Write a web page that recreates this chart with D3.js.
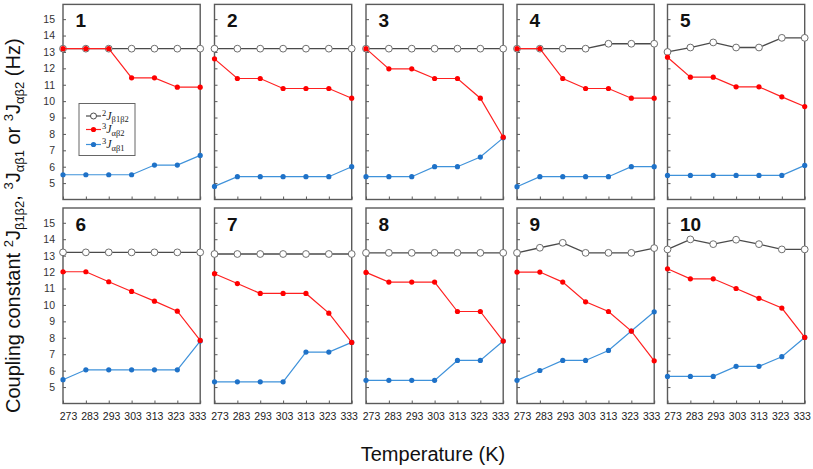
<!DOCTYPE html>
<html>
<head>
<meta charset="utf-8">
<script src="https://cdn.jsdelivr.net/npm/d3@7"></script>
<style>
  html, body { margin: 0; padding: 0; background: #fff; }
  svg { display: block; font-family: Arial, "Liberation Sans", sans-serif; }
</style>
</head>
<body>
<svg id="chart" width="813" height="469"></svg>
<script>
// ---- Data ----
const temperatures = [273, 283, 293, 303, 313, 323, 333];
const panelLabels = ["1", "2", "3", "4", "5", "6", "7", "8", "9", "10"];
const yTickValues = [5, 6, 7, 8, 9, 10, 11, 12, 13, 14, 15];

// 2J(β1β2)
const jBeta1Beta2 = [
  [13.2, 13.2, 13.2, 13.2, 13.2, 13.2, 13.2],
  [13.2, 13.2, 13.2, 13.2, 13.2, 13.2, 13.2],
  [13.2, 13.2, 13.2, 13.2, 13.2, 13.2, 13.2],
  [13.2, 13.2, 13.2, 13.2, 13.5, 13.5, 13.5],
  [13.0, 13.27, 13.58, 13.27, 13.27, 13.86, 13.86],
  [13.2, 13.2, 13.2, 13.2, 13.2, 13.2, 13.2],
  [13.1, 13.1, 13.1, 13.1, 13.1, 13.1, 13.1],
  [13.17, 13.17, 13.17, 13.17, 13.17, 13.17, 13.17],
  [13.17, 13.48, 13.78, 13.17, 13.17, 13.17, 13.46],
  [13.38, 13.99, 13.7, 13.97, 13.7, 13.38, 13.38]
];
// 3J(αβ2)
const jAlphaBeta2 = [
  [13.2, 13.2, 13.2, 11.42, 11.42, 10.85, 10.85],
  [12.58, 11.38, 11.38, 10.77, 10.77, 10.77, 10.18],
  [13.2, 11.97, 11.97, 11.38, 11.38, 10.18, 7.8],
  [13.2, 13.2, 11.38, 10.77, 10.77, 10.18, 10.18],
  [12.68, 11.46, 11.46, 10.87, 10.87, 10.26, 9.67],
  [12.02, 12.02, 11.41, 10.82, 10.23, 9.62, 7.84],
  [11.9, 11.3, 10.7, 10.7, 10.7, 9.5, 7.72],
  [11.98, 11.39, 11.39, 11.39, 9.6, 9.6, 7.8],
  [12.0, 12.0, 11.39, 10.19, 9.6, 8.41, 6.6],
  [12.2, 11.59, 11.59, 11.0, 10.4, 9.81, 8.02]
];
// 3J(αβ1)
const jAlphaBeta1 = [
  [5.51, 5.51, 5.51, 5.51, 6.1, 6.1, 6.69],
  [4.8, 5.39, 5.39, 5.39, 5.39, 5.39, 6.0],
  [5.39, 5.39, 5.39, 6.0, 6.0, 6.59, 7.76],
  [4.78, 5.39, 5.39, 5.39, 5.39, 6.0, 6.0],
  [5.47, 5.47, 5.47, 5.47, 5.47, 5.47, 6.08],
  [5.45, 6.05, 6.05, 6.05, 6.05, 6.05, 7.8],
  [5.32, 5.32, 5.32, 5.32, 7.13, 7.13, 7.72],
  [5.41, 5.41, 5.41, 5.41, 6.62, 6.62, 7.8],
  [5.41, 6.01, 6.62, 6.62, 7.23, 8.41, 9.58],
  [5.65, 5.65, 5.65, 6.26, 6.26, 6.85, 8.02]
];

// ---- Layout ----
const colLefts = [63, 214.5, 366, 517, 667.5];
const panelWidth = 137.2;
const rowRanges = [[199.5, 4.4], [403.5, 208]];
const yDomain = [4, 15.9];

const colors = {
  gray: "#4a4a4a", grayMarker: "#6e6e6e",
  red: "#ff2020", redMarker: "#ff0000",
  blue: "#3f92da", blueMarker: "#1f72c8",
  frame: "#5a5a5a"
};

const svg = d3.select("#chart");

panelLabels.forEach((lab, i) => {
  const row = Math.floor(i / 5), col = i % 5;
  const left = colLefts[col], right = left + panelWidth;
  const x = d3.scaleLinear().domain([273, 333]).range([left, right]);
  const xLab = d3.scaleLinear().domain([273, 333]).range([left + 5, right - 3]);
  const y = d3.scaleLinear().domain(yDomain).range(rowRanges[row]);
  const g = svg.append("g");

  // inner ticks: left
  const yAx = g.append("g").attr("transform", `translate(${left},0)`)
    .call(d3.axisRight(y).tickValues(yTickValues).tickSize(3).tickFormat(""));
  yAx.select(".domain").remove();
  yAx.selectAll("line").attr("stroke", colors.frame).attr("stroke-width", 1);

  // inner ticks: bottom
  const xAx = g.append("g").attr("transform", `translate(0,${rowRanges[row][0]})`)
    .call(d3.axisTop(x).tickValues(temperatures).tickSize(3).tickFormat(""));
  xAx.select(".domain").remove();
  xAx.selectAll("line").attr("stroke", colors.frame).attr("stroke-width", 1);

  // frame
  g.append("rect")
    .attr("x", left).attr("y", rowRanges[row][1])
    .attr("width", panelWidth).attr("height", rowRanges[row][0] - rowRanges[row][1])
    .attr("fill", "none").attr("stroke", colors.frame).attr("stroke-width", 1.4);

  // y tick labels (first column)
  if (col === 0) {
    const yl = g.append("g").attr("transform", `translate(${left - 8},0)`)
      .call(d3.axisLeft(y).tickValues(yTickValues).tickSize(0).tickPadding(0));
    yl.select(".domain").remove();
    yl.selectAll("text").attr("font-size", "10.5px").attr("fill", "#333")
      .attr("font-family", "Arial, 'Liberation Sans', sans-serif");
  }
  // x tick labels (bottom row)
  if (row === 1) {
    const xl = g.append("g").attr("transform", `translate(0,${rowRanges[row][0] + 5})`)
      .call(d3.axisBottom(xLab).tickValues(temperatures).tickSize(0).tickPadding(4).tickFormat(d3.format("d")));
    xl.select(".domain").remove();
    xl.selectAll("text").attr("font-size", "10.5px").attr("fill", "#222")
      .attr("font-family", "Arial, 'Liberation Sans', sans-serif");
  }

  const line = d3.line().x((d, k) => x(temperatures[k])).y(d => y(d));

  // gray series
  g.append("path").datum(jBeta1Beta2[i]).attr("d", line)
    .attr("fill", "none").attr("stroke", colors.gray).attr("stroke-width", 1.3);
  g.selectAll(".c2").data(jBeta1Beta2[i]).join("circle")
    .attr("cx", (d, k) => x(temperatures[k])).attr("cy", d => y(d)).attr("r", 3.4)
    .attr("fill", "#fff").attr("stroke", colors.grayMarker).attr("stroke-width", 1);

  // blue series
  g.append("path").datum(jAlphaBeta1[i]).attr("d", line)
    .attr("fill", "none").attr("stroke", colors.blue).attr("stroke-width", 1.2);
  g.selectAll(".cb").data(jAlphaBeta1[i]).join("circle")
    .attr("cx", (d, k) => x(temperatures[k])).attr("cy", d => y(d)).attr("r", 2.6)
    .attr("fill", colors.blueMarker);

  // red series
  g.append("path").datum(jAlphaBeta2[i]).attr("d", line)
    .attr("fill", "none").attr("stroke", colors.red).attr("stroke-width", 1.2);
  g.selectAll(".cr").data(jAlphaBeta2[i]).join("circle")
    .attr("cx", (d, k) => x(temperatures[k])).attr("cy", d => y(d)).attr("r", 2.6)
    .attr("fill", colors.redMarker);

  // panel number
  g.append("text").attr("x", left + 12.5).attr("y", rowRanges[row][1] + 22.5)
    .attr("font-size", "19px").attr("font-weight", "bold").attr("fill", "#111")
    .text(lab);
});

// ---- Legend (panel 1) ----
const legend = svg.append("g");
legend.append("rect").attr("x", 79).attr("y", 103.5).attr("width", 56).attr("height", 52)
  .attr("fill", "#fff").attr("stroke", "#666").attr("stroke-width", 1);
const legendItems = [
  { sup: "2", sub: "β1β2", color: colors.gray, open: true, y: 116 },
  { sup: "3", sub: "αβ2", color: colors.red, open: false, y: 129.5 },
  { sup: "3", sub: "αβ1", color: colors.blue, open: false, y: 144.5 }
];
legendItems.forEach(it => {
  legend.append("line").attr("x1", 86).attr("x2", 101).attr("y1", it.y).attr("y2", it.y)
    .attr("stroke", it.color).attr("stroke-width", 1.2);
  legend.append("circle").attr("cx", 93.5).attr("cy", it.y).attr("r", it.open ? 3 : 2.6)
    .attr("fill", it.open ? "#fff" : (it.color === colors.red ? colors.redMarker : colors.blueMarker))
    .attr("stroke", it.open ? colors.gray : "none").attr("stroke-width", 1);
  const t = legend.append("text").attr("x", 102).attr("y", it.y + 3.5)
    .attr("font-family", "'Liberation Serif', 'Times New Roman', serif").attr("font-size", "12px").attr("fill", "#222");
  t.append("tspan").attr("font-size", "8.5px").attr("dy", -4).text(it.sup);
  t.append("tspan").attr("font-style", "italic").attr("dy", 4).text("J");
  t.append("tspan").attr("font-size", "8.5px").attr("dy", 2.5).text(it.sub);
});

// ---- Axis titles ----
const yt = svg.append("text")
  .attr("transform", "translate(19.5,413) rotate(-90)")
  .attr("text-anchor", "start")
  .attr("font-size", "20px").attr("fill", "#111");
yt.append("tspan").text("Coupling constant ");
yt.append("tspan").attr("font-size", "13px").attr("dy", -6.5).text("2");
yt.append("tspan").attr("dy", 6.5).text("J");
yt.append("tspan").attr("font-size", "13px").attr("dy", 4.5).text("β1β2");
yt.append("tspan").attr("dy", -4.5).text(", ");
yt.append("tspan").attr("font-size", "13px").attr("dy", -6.5).text("3");
yt.append("tspan").attr("dy", 6.5).text("J");
yt.append("tspan").attr("font-size", "13px").attr("dy", 4.5).text("αβ1");
yt.append("tspan").attr("dy", -4.5).text(" or ");
yt.append("tspan").attr("font-size", "13px").attr("dy", -6.5).text("3");
yt.append("tspan").attr("dy", 6.5).text("J");
yt.append("tspan").attr("font-size", "13px").attr("dy", 4.5).text("αβ2");
yt.append("tspan").attr("dy", -4.5).text("  (Hz)");

svg.append("text").attr("x", 433).attr("y", 461).attr("text-anchor", "middle")
  .attr("font-size", "20px").attr("fill", "#111").text("Temperature (K)");
</script>
</body>
</html>
